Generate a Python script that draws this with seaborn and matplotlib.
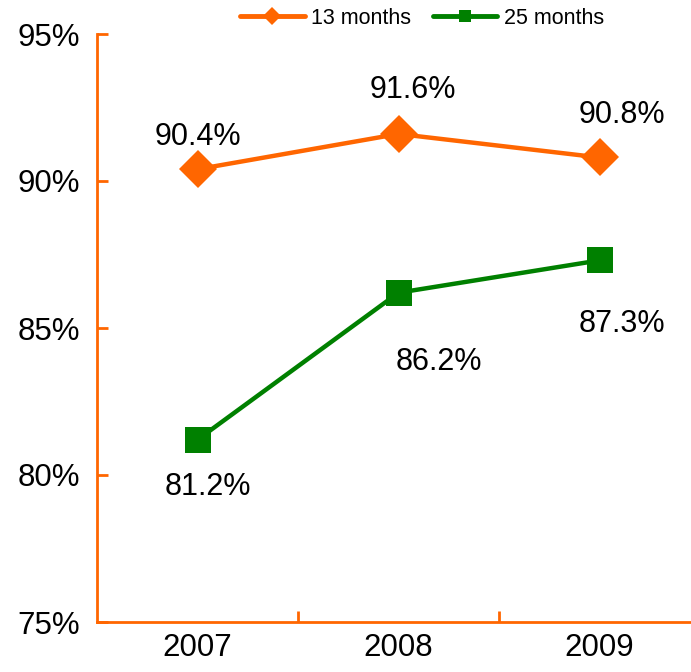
import matplotlib
matplotlib.use("Agg")
import matplotlib.pyplot as plt
from matplotlib.lines import Line2D
import seaborn as sns
import pandas as pd

years = ["2007", "2008", "2009"]
retention_13 = [90.4, 91.6, 90.8]
retention_25 = [81.2, 86.2, 87.3]
series_names = ["13 months", "25 months"]
y_ticks = [75, 80, 85, 90, 95]

sns.set_theme(style="white")
plt.rcParams["font.family"] = ["Liberation Sans", "DejaVu Sans"]
plt.rcParams["text.color"] = "black"
plt.rcParams["xtick.color"] = "black"
plt.rcParams["ytick.color"] = "black"

ORANGE = "#FF6600"
GREEN = "#008000"

df = pd.DataFrame({
    "year": years * 2,
    "x": list(range(len(years))) * 2,
    "value": retention_13 + retention_25,
    "series": [series_names[0]] * 3 + [series_names[1]] * 3,
})

fig = plt.figure(figsize=(6.91, 6.72), dpi=100)
ax = fig.add_axes([97 / 691, 50 / 672, 603 / 691, 588 / 672])

sns.lineplot(data=df, x="x", y="value", hue="series", style="series",
             palette=[ORANGE, GREEN], markers=["D", "s"], dashes=False,
             markersize=19, linewidth=3.2, markeredgewidth=0, ax=ax,
             legend=False)

ax.set_xlim(-0.5, 2.5)
ax.set_ylim(75, 95)
ax.set_yticks(y_ticks)
ax.set_yticklabels([f"{v}%" for v in y_ticks], fontsize=22.5, color="black")
ax.set_xticks([0.5, 1.5])
ax.set_xticklabels([])
for i, yr in enumerate(years):
    ax.text(i, -0.018, yr, transform=ax.get_xaxis_transform(), ha="center",
            va="top", fontsize=22.5, color="black")
ax.set_xlabel("")
ax.set_ylabel("")

for side in ["top", "right"]:
    ax.spines[side].set_visible(False)
for side in ["left", "bottom"]:
    ax.spines[side].set_color(ORANGE)
    ax.spines[side].set_linewidth(2)
ax.tick_params(axis="y", direction="in", length=8, width=2, color=ORANGE,
               pad=12, left=True, labelcolor="black")
ax.tick_params(axis="x", direction="in", length=8, width=2, color=ORANGE,
               bottom=True)

# value labels
offsets_13 = [(0, 1.1), (0.07, 1.5), (0.11, 1.45)]
offsets_25 = [(0.05, -1.6), (0.2, -2.35), (0.11, -2.17)]
for i, (v, (dx, dy)) in enumerate(zip(retention_13, offsets_13)):
    ax.text(i + dx, v + dy, f"{v}%", ha="center", va="center", fontsize=22,
            color="black")
for i, (v, (dx, dy)) in enumerate(zip(retention_25, offsets_25)):
    ax.text(i + dx, v + dy, f"{v}%", ha="center", va="center", fontsize=22,
            color="black")

# legend
handles = [
    Line2D([], [], color=ORANGE, marker="D", markersize=9, linewidth=3.5,
           markeredgewidth=0),
    Line2D([], [], color=GREEN, marker="s", markersize=9, linewidth=3.5,
           markeredgewidth=0),
]
leg = fig.legend(handles, series_names, loc="center",
                 bbox_to_anchor=(422 / 691, 1 - 18 / 672), ncol=2,
                 frameon=False, fontsize=15.5, handlelength=3,
                 handletextpad=0.3, columnspacing=1.0)
for t in leg.get_texts():
    t.set_color("black")

fig.savefig("out.png", dpi=100)
